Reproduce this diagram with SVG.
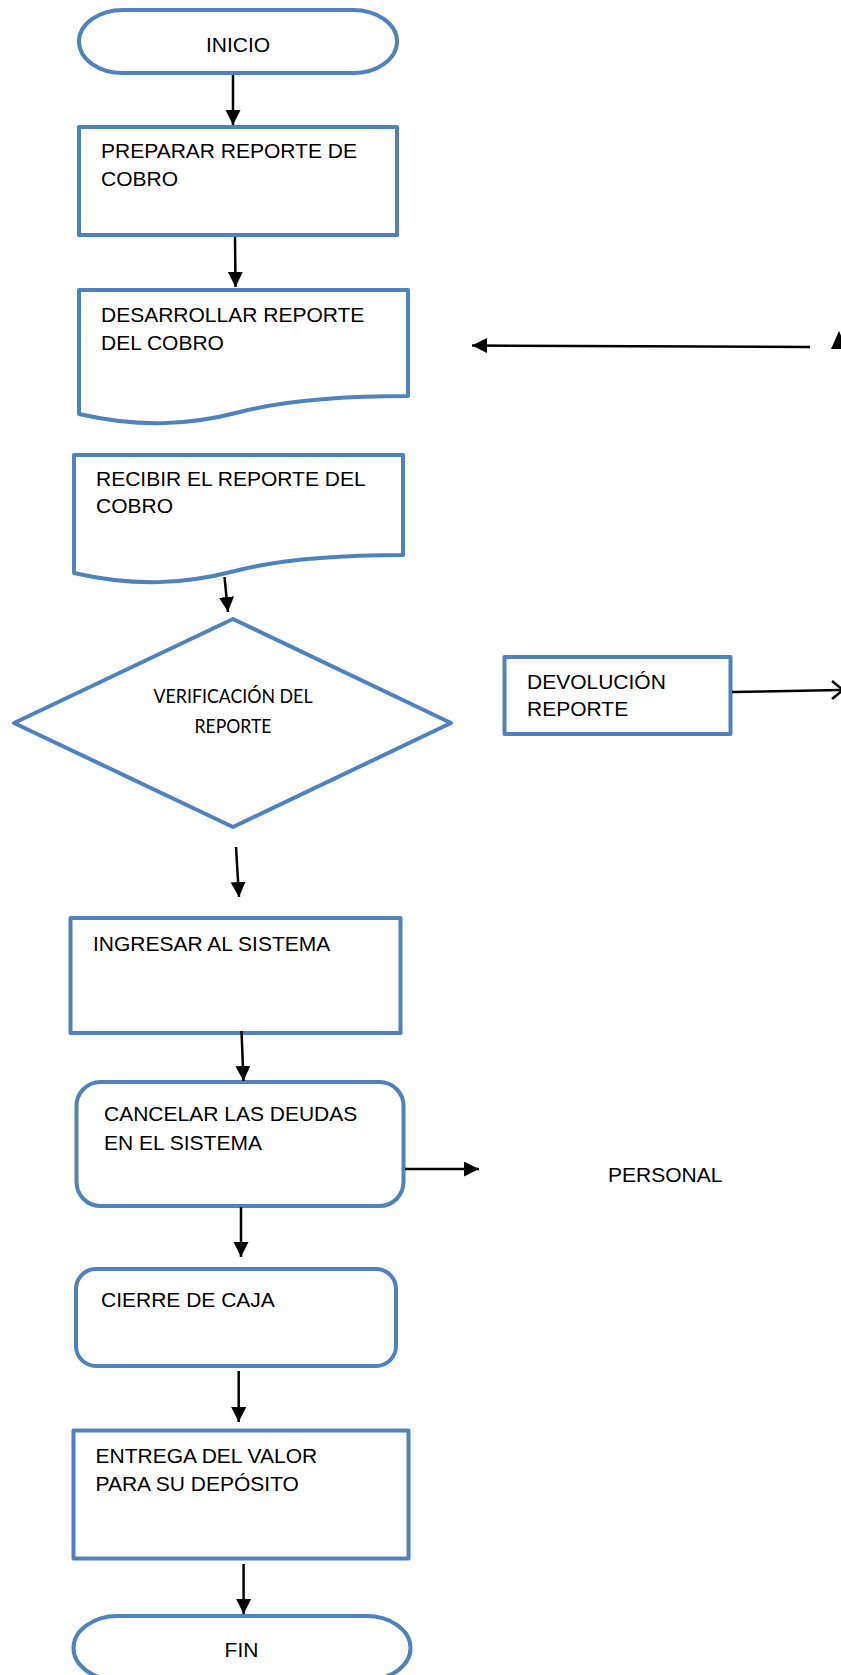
<svg xmlns="http://www.w3.org/2000/svg" width="841" height="1675" viewBox="0 0 841 1675">
<style>
.shape{fill:#fff;stroke:#4F81BD;stroke-width:4;stroke-linejoin:round}
.t{font-family:"Liberation Sans",Arial,sans-serif;font-size:21px;fill:#000}
.d{font-family:Lato,"Open Sans",sans-serif;font-size:18.5px;fill:#000}
.c{fill:none;stroke:#000;stroke-width:2.5}
</style>
<defs>
<marker id="ah" markerUnits="userSpaceOnUse" markerWidth="16" markerHeight="16" refX="15" refY="7.5" orient="auto">
<path d="M0,0 L15,7.5 L0,15 z" fill="#000"/>
</marker>
</defs>
<rect width="841" height="1675" fill="#fff"/>

<g id="inicio">
<rect class="shape" x="79" y="10" width="318" height="63" rx="44" ry="31.5"/>
<text class="t" x="238" y="52" text-anchor="middle">INICIO</text>
</g>

<g id="preparar">
<rect class="shape" x="79" y="127" width="318" height="108"/>
<text class="t" x="101" y="158">PREPARAR REPORTE DE</text>
<text class="t" x="101" y="186">COBRO</text>
</g>

<g id="desarrollar">
<path class="shape" d="M79,290 H408 V396 C350,396 290,399 240,412 C190,425 140,428 79,414 Z"/>
<text class="t" x="101" y="322">DESARROLLAR REPORTE</text>
<text class="t" x="101" y="350">DEL COBRO</text>
</g>

<g id="recibir">
<path class="shape" d="M74,455 H403 V555 C345,555 285,558 235,571 C185,584 135,587 74,573 Z"/>
<text class="t" x="96" y="486">RECIBIR EL REPORTE DEL</text>
<text class="t" x="96" y="513">COBRO</text>
</g>

<g id="verificacion">
<path class="shape" d="M233,619 L451,723 L233,827 L14,723 Z"/>
<text class="d" x="233" y="703" text-anchor="middle" textLength="159" lengthAdjust="spacingAndGlyphs">VERIFICACIÓN DEL</text>
<text class="d" x="233" y="733" text-anchor="middle" textLength="77" lengthAdjust="spacingAndGlyphs">REPORTE</text>
</g>

<g id="devolucion">
<rect class="shape" x="504.5" y="657" width="226" height="77"/>
<text class="t" x="527" y="689">DEVOLUCIÓN</text>
<text class="t" x="527" y="716">REPORTE</text>
</g>

<g id="ingresar">
<rect class="shape" x="70.5" y="918" width="330" height="115"/>
<text class="t" x="93" y="951">INGRESAR AL SISTEMA</text>
</g>

<g id="cancelar">
<rect class="shape" x="76.5" y="1082" width="327" height="124" rx="24" ry="24"/>
<text class="t" x="104" y="1121">CANCELAR LAS DEUDAS</text>
<text class="t" x="104" y="1150">EN EL SISTEMA</text>
</g>

<g id="personal">
<text class="t" x="608" y="1182">PERSONAL</text>
</g>

<g id="cierre">
<rect class="shape" x="76" y="1269" width="320" height="97" rx="20" ry="20"/>
<text class="t" x="101" y="1307">CIERRE DE CAJA</text>
</g>

<g id="entrega">
<rect class="shape" x="73.5" y="1430.5" width="335" height="128"/>
<text class="t" x="95.5" y="1463">ENTREGA DEL VALOR</text>
<text class="t" x="95.5" y="1491">PARA SU DEPÓSITO</text>
</g>

<g id="fin">
<rect class="shape" x="73.5" y="1616" width="337" height="64" rx="44" ry="32"/>
<text class="t" x="241.5" y="1657" text-anchor="middle">FIN</text>
</g>

<g id="connectors">
<line class="c" x1="233" y1="75" x2="233" y2="125" marker-end="url(#ah)"/>
<line class="c" x1="235" y1="237" x2="235.5" y2="287" marker-end="url(#ah)"/>
<line class="c" x1="810" y1="347" x2="472" y2="345.5" marker-end="url(#ah)"/>
<path d="M839,331 L847,349 L831,349 Z" fill="#000"/>
<line class="c" x1="224.5" y1="577" x2="228" y2="612" marker-end="url(#ah)"/>
<line class="c" x1="732" y1="692" x2="841" y2="690"/>
<polyline class="c" points="832,681 843,690 832,699"/>
<line class="c" x1="236" y1="847" x2="239" y2="897" marker-end="url(#ah)"/>
<line class="c" x1="241.5" y1="1031" x2="243.5" y2="1081" marker-end="url(#ah)"/>
<line class="c" x1="405" y1="1169" x2="479" y2="1169" marker-end="url(#ah)"/>
<line class="c" x1="241" y1="1207" x2="241" y2="1257" marker-end="url(#ah)"/>
<line class="c" x1="238.7" y1="1371" x2="238.7" y2="1422" marker-end="url(#ah)"/>
<line class="c" x1="243.6" y1="1564" x2="243.6" y2="1614" marker-end="url(#ah)"/>
</g>
</svg>
